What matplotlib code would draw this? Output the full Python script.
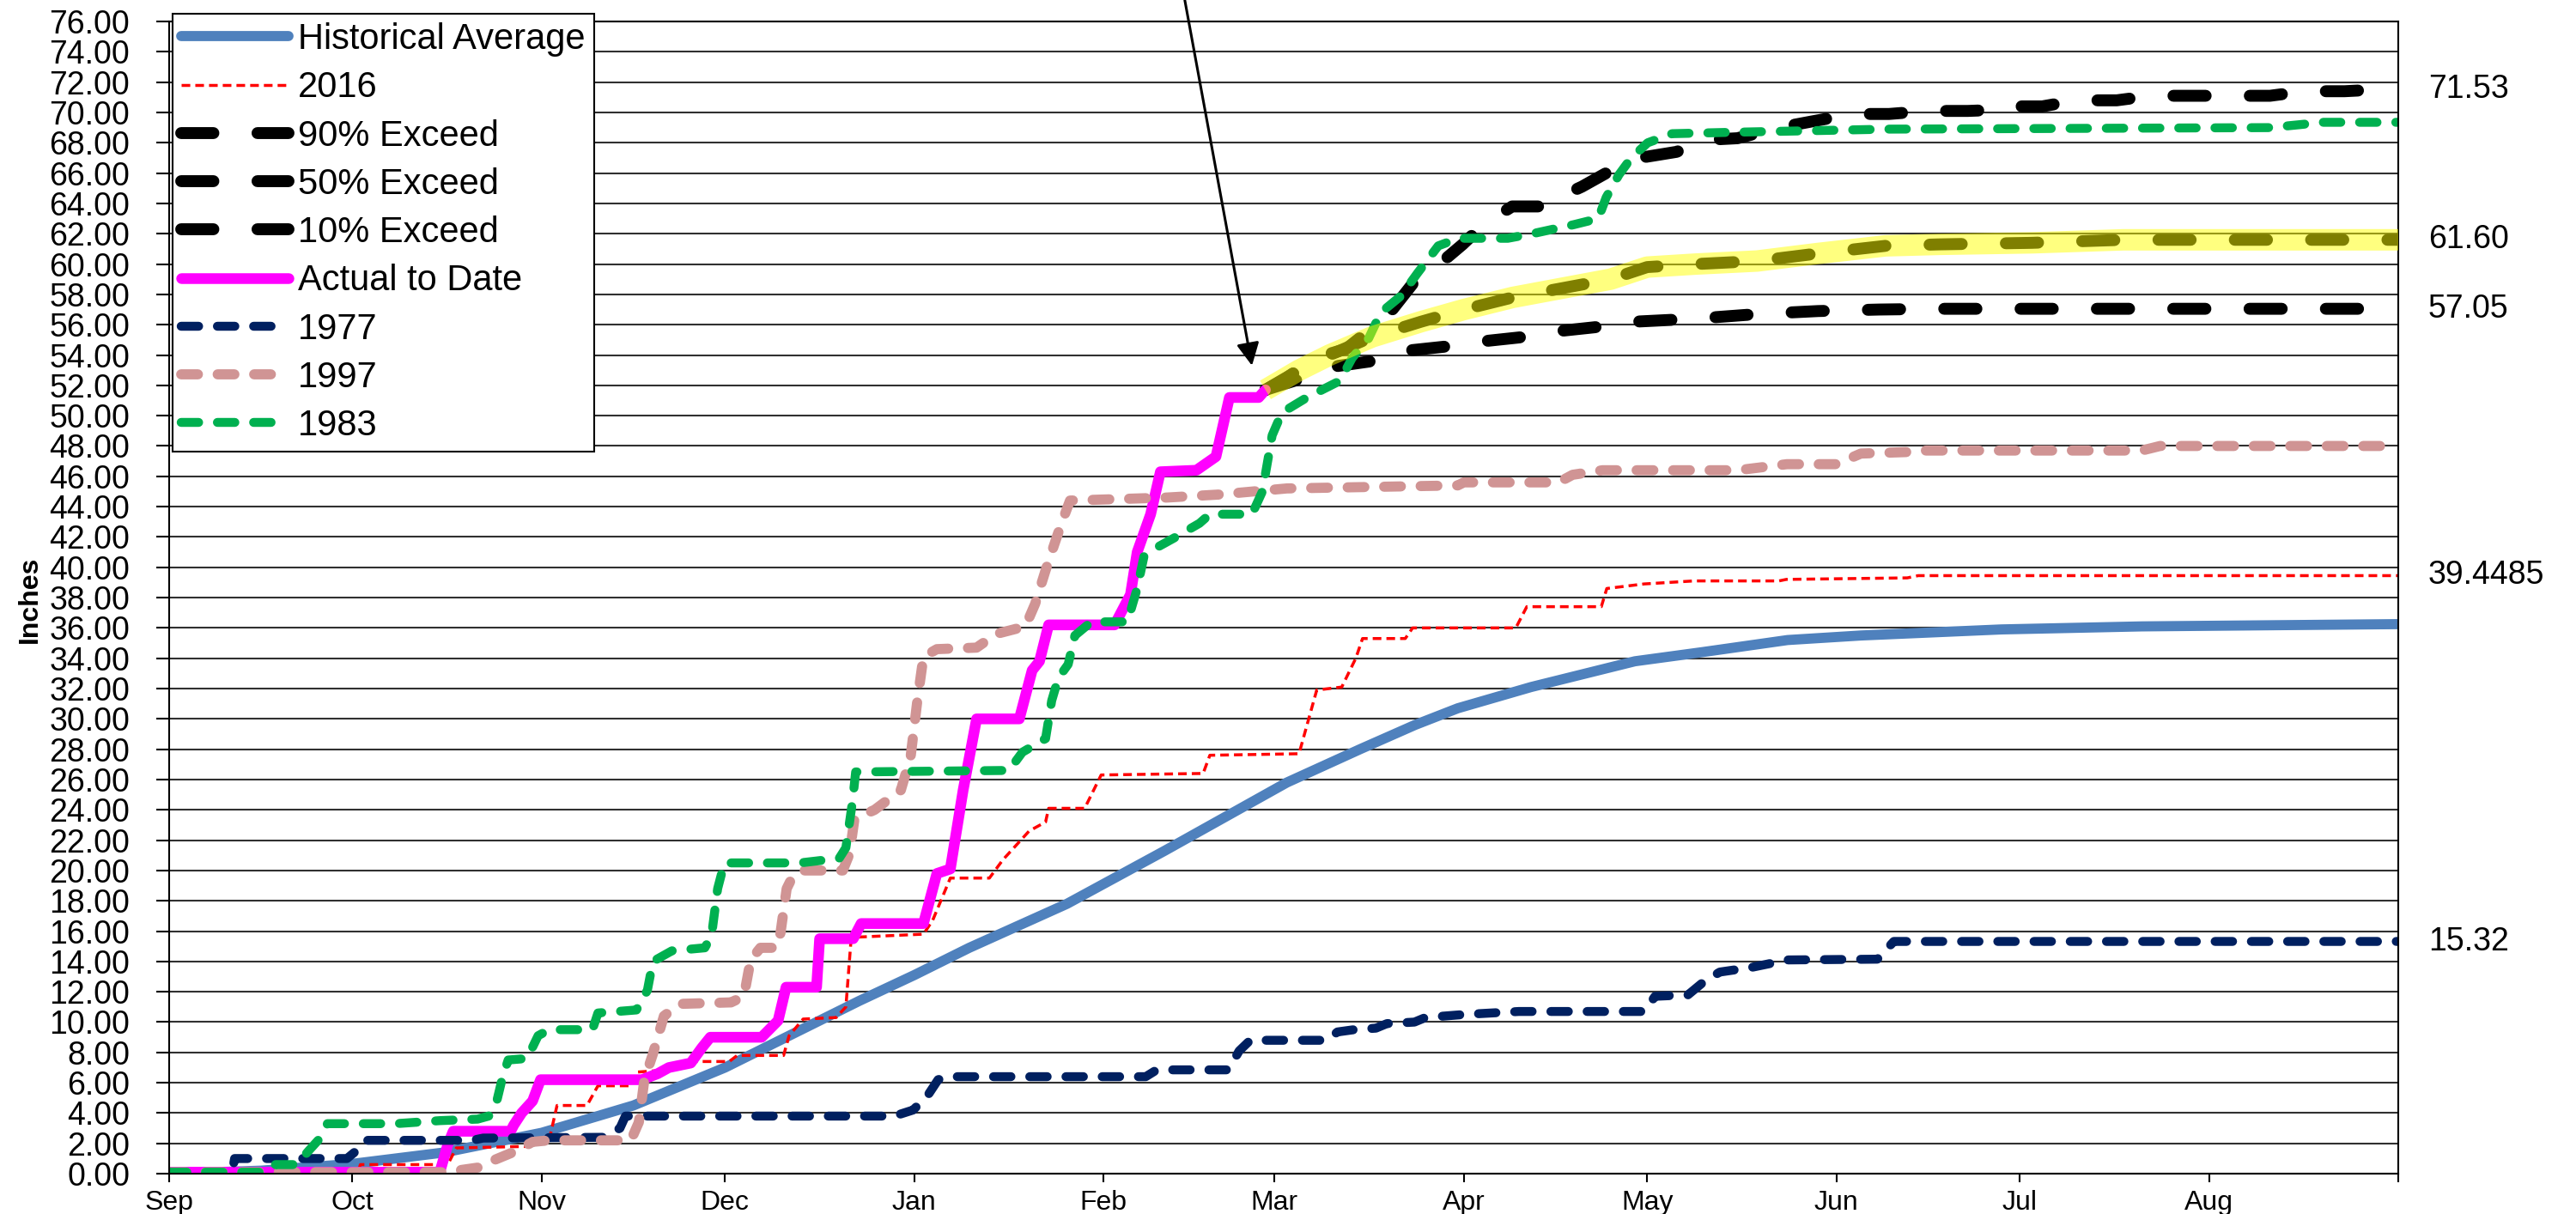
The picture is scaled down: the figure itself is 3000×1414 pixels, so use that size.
import numpy as np
import matplotlib.pyplot as plt
import matplotlib.transforms as mtransforms

plt.rcParams['font.family'] = ['Liberation Sans', 'DejaVu Sans']

## x axis = days since Sep 1
month_days = [0, 30, 61, 91, 122, 153, 181, 212, 242, 273, 303, 334, 365]
month_labels = ['Sep', 'Oct', 'Nov', 'Dec', 'Jan', 'Feb', 'Mar', 'Apr', 'May', 'Jun', 'Jul', 'Aug', '']

## (day, inches)
hist_avg = [(0, 0.0), (15, 0.2), (30, 0.65), (45, 1.4), (61, 2.7), (76, 4.5), (91, 7.0),
            (101, 9.0), (113, 11.4), (122, 13.1), (131, 14.9), (147, 17.8), (163, 21.3),
            (183, 25.8), (195, 28.0), (204, 29.6), (211, 30.7), (223, 32.1), (232, 33.0),
            (240, 33.8), (251, 34.4), (265, 35.2), (277, 35.5), (300, 35.9), (323, 36.1),
            (365, 36.25)]

yr2016 = [(0, 0.1), (30.9, 0.1), (31.3, 0.6), (45.6, 0.6), (47, 1.7), (58.6, 1.8), (59.5, 2.1),
          (62.2, 2.2), (63.5, 4.5), (68.4, 4.5), (70.2, 5.8), (75.6, 5.8), (76.5, 6.7),
          (83.6, 6.9), (84.5, 7.4), (91.7, 7.4), (93, 7.8), (100.6, 7.8), (101.5, 9.1),
          (103.8, 10.2), (109.2, 10.3), (110.8, 11.0), (111.6, 15.2), (112.4, 15.6),
          (123.5, 15.8), (125, 16.7), (127.9, 19.5), (134.3, 19.5), (136.5, 20.7),
          (140.8, 22.6), (143.5, 23.2), (144, 24.1), (149.9, 24.1), (152.6, 26.3),
          (169.3, 26.4), (170.4, 27.6), (185, 27.7), (187.9, 31.9), (192, 32.1),
          (194.3, 34.0), (195.4, 35.3), (202.4, 35.3), (203.6, 36.0), (220.5, 36.0),
          (222.3, 37.4), (234.5, 37.4), (235.4, 38.6), (241.5, 38.9), (249.7, 39.1),
          (263.6, 39.1), (264.8, 39.2), (284.6, 39.3), (286.4, 39.4485), (365, 39.4485)]

exceed90 = [(179.5, 51.7), (185, 52.4), (190, 53.2), (197, 53.6), (203, 54.3), (210, 54.6),
            (215, 54.9), (222, 55.2), (228, 55.6), (235, 55.9), (240, 56.2), (250, 56.4),
            (260, 56.7), (270, 56.9), (280, 57.0), (290, 57.05), (365, 57.05)]

exceed50 = [(179.5, 51.7), (185, 53.0), (190, 54.0), (197, 55.2), (205, 56.2), (212, 57.0),
            (220, 57.8), (228, 58.4), (236, 59.0), (242, 59.8), (250, 60.0), (260, 60.2),
            (270, 60.7), (281, 61.2), (290, 61.3), (305, 61.4), (320, 61.6), (365, 61.6)]

exceed10 = [(179.5, 51.7), (183, 52.5), (187.6, 53.8), (192.7, 54.4), (197.7, 56.0),
            (199.7, 56.7), (203.8, 58.8), (207.1, 59.7), (211.8, 61.3), (215.2, 62.6),
            (219.9, 63.8), (225.3, 63.8), (225.9, 64.1), (231.3, 65.1), (235.3, 66.0),
            (240.7, 67.0), (246.8, 67.4), (252.1, 68.2), (256.8, 68.3), (263.6, 69.0),
            (268.9, 69.4), (275.7, 69.9), (281.6, 69.9), (288, 70.1), (294.5, 70.1),
            (301, 70.2), (302, 70.4), (306.7, 70.4), (312.4, 70.8), (318.9, 70.8),
            (324.6, 71.1), (344, 71.1), (349.7, 71.4), (356.2, 71.4), (362.6, 71.53),
            (365, 71.53)]

actual = [(0, 0.1), (44.3, 0.1), (45.6, 1.9), (46.5, 2.8), (55.9, 2.8), (56.4, 3.2), (57.7, 4.0),
          (59.5, 4.8), (60.8, 6.2), (77.4, 6.2), (80, 6.6), (81.8, 7.0), (85.4, 7.3), (87.2, 8.3),
          (88.6, 9.0), (97, 9.0), (99.7, 10.1), (101, 12.3), (106, 12.3), (106.5, 15.5),
          (112, 15.5), (113.3, 16.5), (123.5, 16.5), (125.7, 19.8), (127.9, 20.1), (130, 25.3),
          (132.2, 30.0), (139.2, 30.0), (141.3, 33.2), (142.5, 33.8), (144, 36.2), (154.8, 36.2),
          (157.4, 38.2), (158.5, 41.0), (160.7, 43.5), (162.3, 46.3), (168.2, 46.4),
          (171.4, 47.3), (173.6, 51.2), (178.4, 51.2), (179.5, 51.7)]

yr1977 = [(0, 0.1), (10.3, 0.1), (10.7, 1.0), (29.1, 1.0), (30.9, 1.6), (32.2, 2.2), (49.6, 2.2),
          (51.4, 2.35), (71.1, 2.4), (73.8, 3.0), (74.7, 3.8), (118.7, 3.8), (121.8, 4.2),
          (124.1, 5.1), (125.9, 6.2), (127.6, 6.4), (159.9, 6.4), (161.7, 6.85), (173.4, 6.85),
          (175.2, 8.1), (177, 8.8), (189.5, 8.8), (191.3, 9.35), (194, 9.5), (197.6, 9.6),
          (199.4, 9.9), (203.9, 10.0), (205.7, 10.3), (212, 10.5), (221, 10.7), (241.5, 10.7),
          (243.3, 11.7), (248.7, 11.8), (251.4, 12.7), (253.9, 13.3), (259, 13.6), (265, 14.1),
          (279.7, 14.15), (282.4, 15.32), (365, 15.32)]

yr1997 = [(0, 0.1), (46, 0.1), (47.9, 0.25), (50.5, 0.4), (53.2, 0.9), (56.8, 1.5), (59.5, 2.1),
          (62.2, 2.2), (75.6, 2.2), (76.9, 3.4), (77.8, 6.2), (79.2, 7.9), (81, 10.4),
          (83.6, 11.2), (92, 11.3), (94.1, 11.7), (95.2, 14.1), (96.8, 14.9), (99.5, 14.9),
          (100.1, 15.9), (101.1, 18.8), (102.2, 19.7), (103.8, 20.0), (110.3, 20.0),
          (111.4, 21.1), (112.2, 23.4), (115.5, 24.0), (119.8, 25.3), (121.4, 27.5),
          (122.5, 31.2), (123.5, 34.1), (125.7, 34.6), (132.2, 34.7), (135.4, 35.6),
          (140.2, 36.1), (141.8, 37.6), (143.5, 39.8), (144.5, 41.0), (146.1, 42.9),
          (147.5, 44.4), (163.4, 44.6), (172, 44.8), (183, 45.2), (211, 45.4), (212, 45.6),
          (227.5, 45.6), (229.8, 46.1), (234.7, 46.4), (256.8, 46.4), (264.9, 46.8),
          (273, 46.8), (277, 47.5), (284.5, 47.6), (287, 47.7), (323, 47.7), (326, 48.0),
          (365, 48.0)]

yr1983 = [(0, 0.1), (15.7, 0.1), (17.4, 0.6), (20.9, 0.6), (22.8, 1.5), (24.6, 2.3), (25.9, 3.3),
          (37.1, 3.3), (44.3, 3.5), (50.5, 3.6), (52.3, 3.8), (53.7, 4.9), (54.6, 6.4),
          (55.5, 7.5), (58.6, 7.6), (60.4, 9.1), (62.2, 9.5), (69.3, 9.5), (70.2, 10.6),
          (76.5, 10.8), (78.3, 12.1), (79.2, 14.0), (82.3, 14.7), (87.7, 14.9), (88.8, 15.7),
          (89.8, 18.8), (90.9, 20.5), (103.3, 20.5), (109.7, 20.8), (110.8, 21.5),
          (111.9, 24.6), (112.4, 26.5), (137.5, 26.6), (139.7, 27.8), (143.5, 28.7),
          (144.5, 31.2), (145.6, 32.7), (147.2, 33.6), (148.3, 35.5), (151, 36.4),
          (156.9, 36.4), (158.5, 38.6), (159.6, 40.7), (161.7, 41.3), (164.4, 41.9),
          (168.7, 42.9), (170.4, 43.5), (177.3, 43.5), (179, 45.0), (180.6, 48.7),
          (182.2, 50.2), (186.3, 51.2), (191.7, 52.3), (193.7, 53.8), (196.4, 55.1),
          (198.4, 56.8), (201.7, 57.9), (204.4, 59.4), (207.8, 61.2), (211.1, 61.7),
          (219.2, 61.7), (223.2, 62.0), (230, 62.6), (234, 63.0), (235.3, 64.4),
          (237.4, 65.9), (239.4, 67.0), (242.1, 68.0), (246.1, 68.6), (256.8, 68.7),
          (281.6, 68.9), (344, 69.0), (349, 69.2), (352.6, 69.35), (365, 69.35)]

## labels written at the right end of some lines
end_series = [exceed10, exceed50, exceed90, yr2016, yr1977]
end_labels = ['71.53', '61.60', '57.05', '39.4485', '15.32']

## arrow pointing at today (tail is above the plot)
arrow_tip = (177.3, 53.3)
arrow_tail = (166.3, 77.4)


def xy(pts):
    d, v = zip(*pts)
    return list(d), list(v)


fig = plt.figure(figsize=(30, 14.14), dpi=100)
ax = fig.add_axes([0.0657, 0.0332, 0.8653, 0.9491])

rnd = dict(dash_capstyle='round', solid_capstyle='round', solid_joinstyle='round',
           dash_joinstyle='round')

ax.plot(*xy(hist_avg), color='#4F81BD', lw=8.5, label='Historical Average', **rnd)
ax.plot(*xy(yr2016), color='#FF0000', lw=2.5, dashes=(2.9, 1.7), label='2016')
ax.plot(*xy(exceed90), color='black', lw=10, dashes=(2.7, 3.7), label='90% Exceed', **rnd)
ax.plot(*xy(exceed50), color='black', lw=10, dashes=(2.7, 3.7), label='50% Exceed', **rnd)
ax.plot(*xy(exceed10), color='black', lw=10, dashes=(2.7, 3.7), label='10% Exceed', **rnd)
ax.plot(*xy(actual), color='#FF00FF', lw=9, label='Actual to Date', **rnd)
ax.plot(*xy(yr1977), color='#002060', lw=7.5, dashes=(1.95, 2.1), label='1977', **rnd)
ax.plot(*xy(yr1997), color='#D09494', lw=8.5, dashes=(1.65, 1.95), label='1997', **rnd)
ax.plot(*xy(yr1983), color='#00B050', lw=7.5, dashes=(1.95, 2.1), label='1983', **rnd)
# yellow highlight over the 50% line
ax.plot(*xy(exceed50), color='yellow', lw=18, alpha=0.5, solid_capstyle='butt', zorder=5)

ax.annotate('', xy=arrow_tip, xytext=arrow_tail, annotation_clip=False,
            arrowprops=dict(arrowstyle='-|>', color='black', lw=2.2, mutation_scale=40,
                            shrinkA=0, shrinkB=0), zorder=6)

trans = mtransforms.blended_transform_factory(ax.transAxes, ax.transData)
for pts, lab in zip(end_series, end_labels):
    ax.text(1.0135, pts[-1][1], lab, transform=trans, ha='left', va='center', fontsize=27)

ax.set_xlim(0, 365)
ax.set_ylim(0, 76)
ax.set_xticks(month_days)
ax.set_xticklabels(month_labels, fontsize=23)
ax.set_yticks(np.arange(0, 77, 2))
ax.set_yticklabels(['%.2f' % v for v in np.arange(0, 77, 2)], fontsize=27)
ax.tick_params(axis='y', length=11, width=1.5, pad=22)
ax.tick_params(axis='x', length=7, width=1.5, pad=7)
ax.yaxis.grid(True, color='#303030', lw=1.5)
ax.set_axisbelow(True)
for sp in ax.spines.values():
    sp.set_linewidth(1.5)

ax.set_ylabel('Inches', fontsize=23, fontweight='bold')
ax.yaxis.set_label_coords(-0.0566, 0.498)

leg = ax.legend(loc='upper left', bbox_to_anchor=(0.0015, 1.007), borderaxespad=0,
                fontsize=30, handlelength=3.0, handletextpad=0.25, labelspacing=0.39,
                borderpad=0.25, fancybox=False, framealpha=1, edgecolor='black')
leg.get_frame().set_linewidth(1.5)

fig.savefig('out.png', dpi=100)
